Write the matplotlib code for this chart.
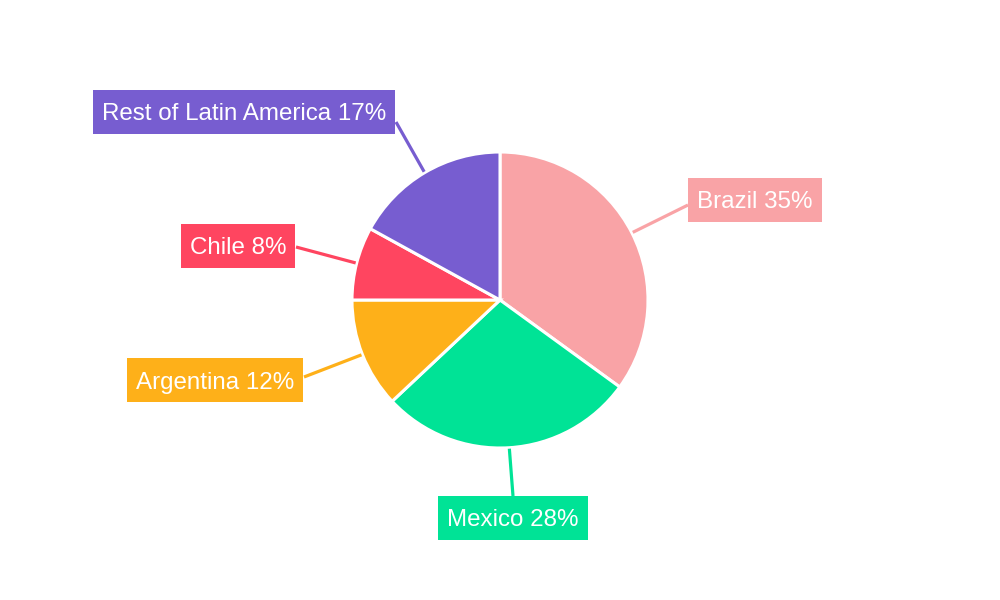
import numpy as np
import matplotlib.pyplot as plt
from matplotlib.patches import Rectangle

plt.rcParams['font.family'] = ['Liberation Sans', 'DejaVu Sans']

regions = ['Brazil', 'Mexico', 'Argentina', 'Chile', 'Rest of Latin America']
shares = [35, 28, 12, 8, 17]
colors = ['#F9A3A6', '#00E396', '#FEB019', '#FF4560', '#775DD0']

# label box centres and the point where the leader line meets the box (pixels, y down)
label_pos = [(755, 200), (513, 518), (215, 380), (238, 246), (244, 112)]
line_end = [(688, 205), (513, 496), (304, 377), (296, 247), (396, 122)]

H = 600
cx, cy, r = 500, 300, 148
box_h, pad_x = 44, 9

fig = plt.figure(figsize=(10, 6), dpi=100)
ax = fig.add_axes([0, 0, 1, 1])

ax.pie(shares, colors=colors, startangle=90, counterclock=False,
       center=(cx, H - cy), radius=r,
       wedgeprops=dict(edgecolor='white', linewidth=2.2))

ax.set_xlim(0, 1000)
ax.set_ylim(0, H)
ax.set_aspect('equal')
ax.axis('off')

cum = np.cumsum([0] + shares)
texts = []
for i, name in enumerate(regions):
    mid = (cum[i] + cum[i + 1]) / 2 / sum(shares)
    ang = np.deg2rad(90 - mid * 360)
    x0 = cx + (r + 1) * np.cos(ang)
    y0 = (H - cy) + (r + 1) * np.sin(ang)
    x1, y1 = line_end[i]
    ax.plot([x0, x1], [y0, H - y1], color=colors[i], lw=2.3, solid_capstyle='butt', zorder=1)
    lx, ly = label_pos[i]
    t = ax.text(lx, H - ly - 8.5, f'{name} {shares[i]}%', color='white', fontsize=17.4,
                ha='center', va='baseline', zorder=4)
    texts.append(t)

fig.canvas.draw()
renderer = fig.canvas.get_renderer()
for i, t in enumerate(texts):
    w = t.get_window_extent(renderer).width
    lx, ly = label_pos[i]
    bw = w + 2 * pad_x
    ax.add_patch(Rectangle((lx - bw / 2, H - ly - box_h / 2), bw, box_h,
                           fc=colors[i], ec='none', zorder=3))

fig.savefig('out.png', dpi=100, facecolor='white')
